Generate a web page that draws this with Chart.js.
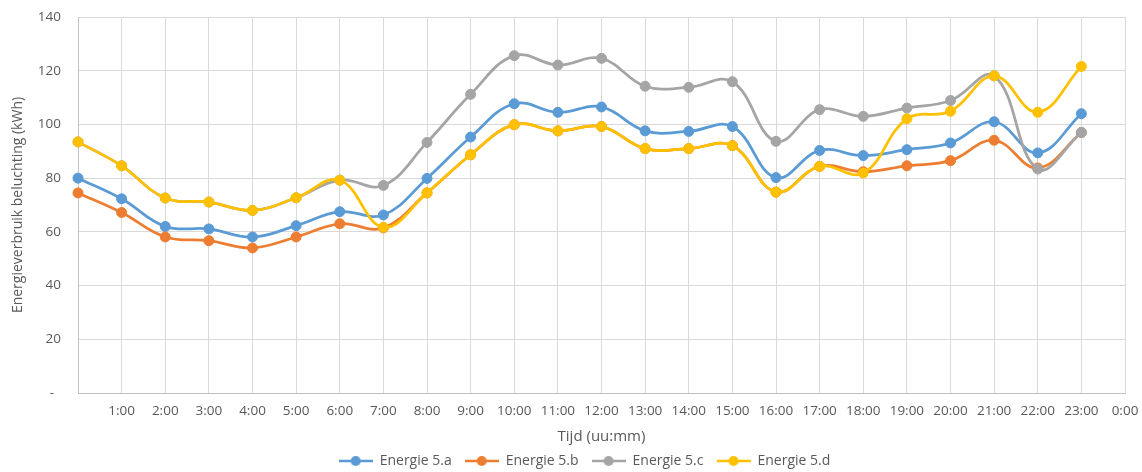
<!DOCTYPE html>
<html>
<head>
<meta charset="utf-8">
<script src="https://cdn.jsdelivr.net/npm/chart.js@4.4.0/dist/chart.umd.min.js"></script>
<style>
html,body{margin:0;padding:0;background:#fff;}
#wrap{width:1142px;height:472px;position:relative;}
</style>
</head>
<body>
<div id="wrap"><canvas id="c"></canvas></div>
<script>
const categories = ["", "1:00", "2:00", "3:00", "4:00", "5:00", "6:00", "7:00", "8:00", "9:00", "10:00", "11:00", "12:00", "13:00", "14:00", "15:00", "16:00", "17:00", "18:00", "19:00", "20:00", "21:00", "22:00", "23:00", "0:00"];
const seriesNames = ["Energie 5.a", "Energie 5.b", "Energie 5.c", "Energie 5.d"];
const energie5a = [80.0, 72.3, 62.0, 61.1, 58.1, 62.3, 67.5, 66.3, 79.9, 95.3, 107.7, 104.5, 106.5, 97.6, 97.4, 99.2, 80.2, 90.3, 88.4, 90.6, 93.1, 101.0, 89.4, 104.0];
const energie5b = [74.5, 67.2, 58.1, 56.7, 54.0, 58.1, 63.0, 61.5, 74.5, 88.7, 99.9, 97.6, 99.2, 91.0, 91.0, 92.1, 74.8, 84.4, 82.4, 84.6, 86.5, 94.1, 83.8, 97.0];
const energie5c = [93.5, 84.6, 72.6, 71.1, 68.0, 72.7, 79.3, 77.3, 93.3, 111.2, 125.6, 122.1, 124.6, 114.2, 113.8, 115.9, 93.7, 105.5, 103.0, 106.1, 108.9, 118.1, 83.4, 97.0];
const energie5d = [93.5, 84.6, 72.6, 71.1, 68.0, 72.7, 79.2, 61.7, 74.5, 88.7, 99.9, 97.6, 99.2, 91.0, 91.0, 92.1, 74.8, 84.4, 81.9, 102.1, 104.9, 118.1, 104.5, 121.6];
const yTicks = [0, 20, 40, 60, 80, 100, 120, 140];
const colors = ["#5B9BD5", "#ED7D31", "#A5A5A5", "#FFC000"];

const FONT = "'Open Sans', 'DejaVu Sans', sans-serif";
const TXT = "#595959";

function legendIcon(color){
  const cv = document.createElement('canvas');
  cv.width = 34; cv.height = 12;
  const g = cv.getContext('2d');
  g.strokeStyle = color; g.lineWidth = 2.5;
  g.beginPath(); g.moveTo(0, 6); g.lineTo(34, 6); g.stroke();
  g.fillStyle = color;
  g.beginPath(); g.arc(17, 6, 5, 0, Math.PI*2); g.fill();
  return cv;
}
const icons = colors.map(legendIcon);

const allSeries = [energie5a, energie5b, energie5c, energie5d];
const datasets = allSeries.map((vals, i) => ({
  label: seriesNames[i],
  data: vals,
  borderColor: colors[i],
  backgroundColor: colors[i],
  borderWidth: 2.75,
  pointRadius: 5,
  pointBorderWidth: 1,
  pointHoverRadius: 5,
  tension: 0.4,
  fill: false,
  order: 3 - i
}));

const legendFix = {
  id: 'legendFix',
  afterInit(chart){
    const lg = chart.legend;
    if (!lg) return;
    const orig = lg.fit.bind(lg);
    lg.fit = function(){ orig(); this.height = 31; };
  },
  afterLayout(chart){
    const lg = chart.legend;
    if (!lg) return;
    lg.left += 20; lg.right += 20;
  }
};

new Chart(document.getElementById('c'), {
  type: 'line',
  data: { labels: categories, datasets },
  plugins: [legendFix],
  options: {
    responsive: true,
    maintainAspectRatio: false,
    animation: false,
    events: [],
    layout: { padding: { top: 17, right: 17, left: 4, bottom: 0 } },
    plugins: {
      tooltip: { enabled: false },
      legend: {
        position: 'bottom',
        labels: {
          usePointStyle: true,
          pointStyleWidth: 34,
          boxHeight: 12,
          padding: 13,
          color: TXT,
          font: { family: FONT, size: 14 },
          generateLabels: (chart) => seriesNames.map((n, i) => ({
            text: n,
            fillStyle: colors[i],
            strokeStyle: colors[i],
            pointStyle: icons[i],
            lineWidth: 0,
            hidden: false,
            datasetIndex: i,
            fontColor: TXT
          }))
        }
      }
    },
    scales: {
      x: {
        offset: false,
        grid: { color: '#D9D9D9', lineWidth: 1, drawTicks: true, tickLength: 10, tickColor: 'rgba(0,0,0,0)' },
        border: { color: '#BFBFBF' },
        ticks: { color: TXT, font: { family: FONT, size: 13.5 }, padding: 0, maxRotation: 0, autoSkip: false },
        title: { display: true, text: 'Tijd (uu:mm)', color: TXT, font: { family: FONT, size: 15 }, padding: { top: 4, bottom: -5 } },
        afterFit: (s) => { s.height = 48; }
      },
      y: {
        min: 0, max: 140,
        afterBuildTicks: (s) => { s.ticks = yTicks.map(v => ({ value: v })); },
        grid: { color: '#D9D9D9', lineWidth: 1, drawTicks: true, tickLength: 17, tickColor: 'rgba(0,0,0,0)' },
        border: { color: '#C4C4C4' },
        ticks: { color: TXT, font: { family: FONT, size: 13.5 }, padding: 0, callback: (v) => v === 0 ? '-  ' : String(v) },
        title: { display: true, text: 'Energieverbruik beluchting (kWh)', color: TXT, font: { family: FONT, size: 14 }, padding: { top: 6, bottom: 4 } },
        afterFit: (s) => { s.width = 74; }
      }
    }
  }
});
</script>
</body>
</html>
